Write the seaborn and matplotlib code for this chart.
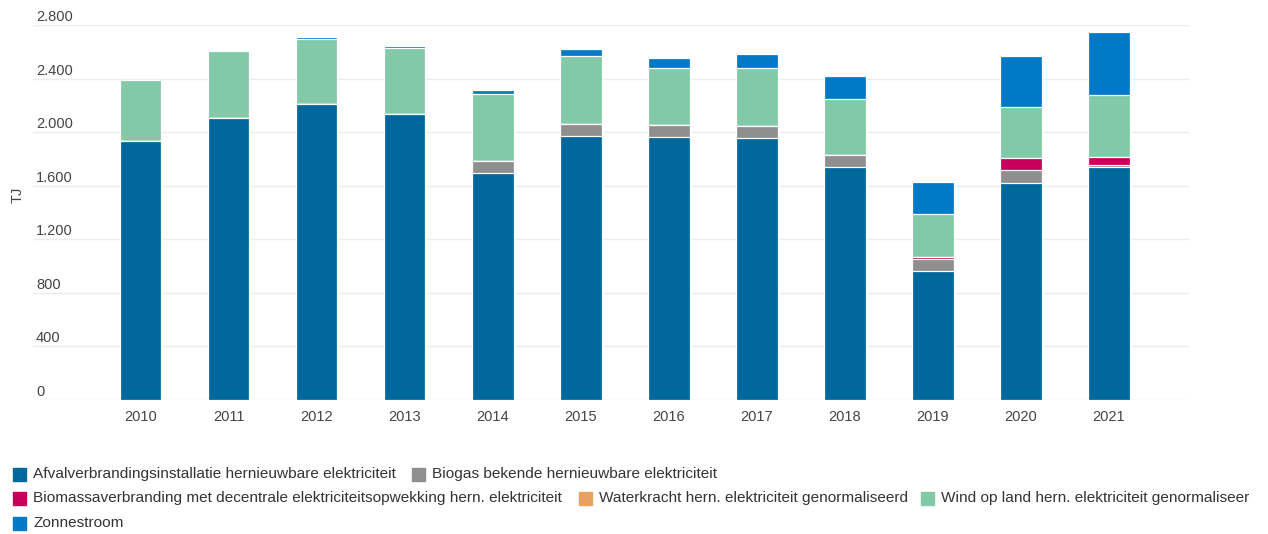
import numpy as np
import pandas as pd
import seaborn as sns
import matplotlib.pyplot as plt
from matplotlib.patches import Rectangle
from matplotlib import transforms

# Hernieuwbare elektriciteit per bron (TJ)
jaren = [2010, 2011, 2012, 2013, 2014, 2015, 2016, 2017, 2018, 2019, 2020, 2021]
afval = [1933, 2105, 2210, 2133, 1695, 1970, 1965, 1953, 1738, 965, 1620, 1738]
biogas = [0, 0, 0, 0, 88, 93, 88, 90, 92, 88, 95, 20]
biomassa = [0, 0, 0, 0, 0, 0, 0, 0, 0, 15, 90, 55]
waterkracht = [0, 0, 0, 0, 0, 0, 0, 0, 0, 0, 0, 0]
wind = [460, 500, 485, 497, 503, 505, 428, 438, 421, 320, 383, 462]
zon = [0, 12, 17, 10, 32, 50, 72, 100, 165, 240, 380, 475]

namen = [
    "Afvalverbrandingsinstallatie hernieuwbare elektriciteit",
    "Biogas bekende hernieuwbare elektriciteit",
    "Biomassaverbranding met decentrale elektriciteitsopwekking hern. elektriciteit",
    "Waterkracht hern. elektriciteit genormaliseerd",
    "Wind op land hern. elektriciteit genormaliseerd",
    "Zonnestroom",
]
kleuren = ["#00679a", "#8f8f8f", "#c9005b", "#e9a15f", "#82c9a7", "#007ac7"]
y_ticks = [0, 400, 800, 1200, 1600, 2000, 2400, 2800]

W, H = 1268, 534
sns.set_theme(style="white")
plt.rcParams["font.family"] = ["Liberation Sans", "DejaVu Sans"]
tekstkleur = "#444444"

fig = plt.figure(figsize=(W / 100, H / 100), dpi=100)
ax = fig.add_axes([33 / W, (H - 400) / H, (1189 - 33) / W, (400 - 25) / H])

df = pd.DataFrame(
    dict(zip(namen, [afval, biogas, biomassa, waterkracht, wind, zon])),
    index=[str(j) for j in jaren],
)
cum = df.cumsum(axis=1)

# Stacked bars: draw cumulative totals from the top series down
for naam, kleur in reversed(list(zip(namen, kleuren))):
    sns.barplot(
        x=cum.index, y=cum[naam].values, color=kleur, saturation=1,
        width=0.473, edgecolor="white", linewidth=0.9, errorbar=None, ax=ax,
    )

ax.set_xlim(-1.221, 11.908)
ax.set_ylim(0, 2800)
ax.set_yticks(y_ticks)
ax.yaxis.grid(True, color="#ececec", linewidth=1)
ax.set_axisbelow(True)
ax.tick_params(axis="y", labelleft=False, length=0)
ax.tick_params(axis="x", length=0, pad=7, labelsize=10.5, labelcolor=tekstkleur)
for s in ax.spines.values():
    s.set_visible(False)
ax.set_xlabel("")
ax.set_ylabel("")

# y tick labels sit just above their gridlines, left aligned
trans = transforms.blended_transform_factory(fig.transFigure, ax.transData) + \
    transforms.ScaledTranslation(0, 4 / 100, fig.dpi_scale_trans)
for v in y_ticks:
    ax.text(36 / W, v, f"{v:,}".replace(",", "."), transform=trans,
            ha="left", va="baseline", fontsize=10.5, color=tekstkleur)

fig.text(18 / W, 1 - 195 / H, "TJ", rotation=90, ha="center", va="center",
         fontsize=10.5, color=tekstkleur)

# Legend, clipped to its box on the right
legend_clip = transforms.TransformedBbox(
    transforms.Bbox([[0, 0], [1250 / W, 1]]), fig.transFigure)
posities = [(13, 474), (412, 474), (13, 498), (579, 498), (921, 498), (13, 523)]
for naam, kleur, (px, py) in zip(namen, kleuren, posities):
    fig.patches.append(Rectangle((px / W, 1 - (py + 6.5) / H), 13 / W, 13 / H,
                                 transform=fig.transFigure, color=kleur))
    t = fig.text((px + 20) / W, 1 - py / H, naam, ha="left", va="center",
                 fontsize=11.1, color="#333333")
    t.set_clip_box(legend_clip)
    t.set_clip_on(True)

fig.savefig("out.png", dpi=100)
